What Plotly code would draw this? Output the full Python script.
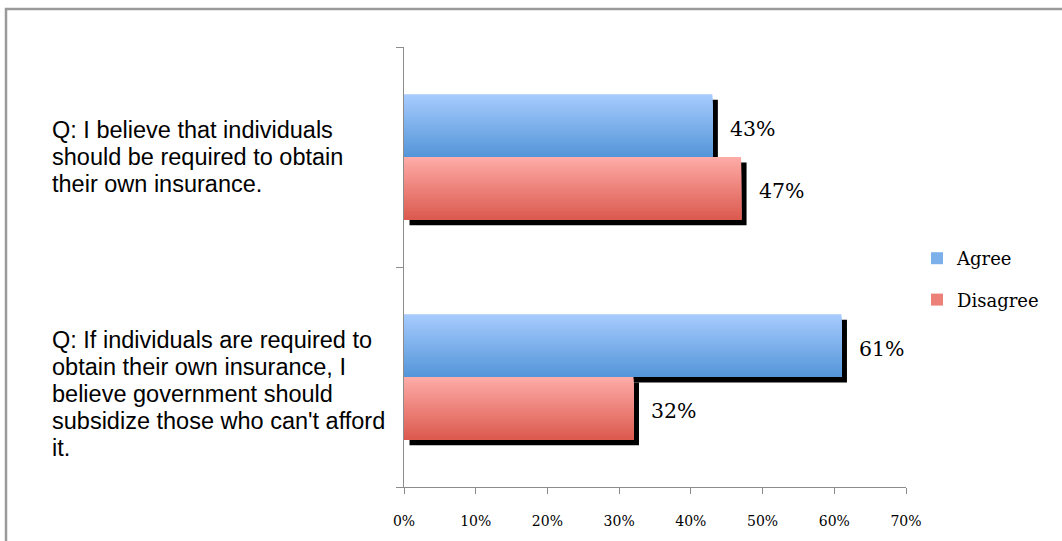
import plotly.graph_objects as go

# ---- data ----
questions = [
    "Q: I believe that individuals<br>should be required to obtain<br>their own insurance.",
    "Q: If individuals are required to<br>obtain their own insurance, I<br>believe government should<br>subsidize those who can't afford<br>it.",
]
series_names = ["Agree", "Disagree"]
agree = [43, 61]
disagree = [47, 32]
x_ticks = [0, 10, 20, 30, 40, 50, 60, 70]

# ---- styling ----
series_values = [agree, disagree]
grad_top = [(168, 204, 254), (254, 172, 168)]
grad_bot = [(83, 149, 217), (219, 89, 78)]
group_pos = [1, 0]            # first question drawn at the top
bar_w = 0.285                 # thickness of one bar (y units)
series_off = [bar_w / 2, -bar_w / 2]
n_steps = 32                  # colour steps used to fake the vertical gradient
px_per_x = 502 / 70
px_per_y = 220
sh_dx = 5.5 / px_per_x        # drop-shadow offset
sh_dy = 5.5 / px_per_y
label_shift = [0, -17]        # vertical nudge (px) of each question block
line_gap = 27

serif = "DejaVu Serif"
sans = "Liberation Sans"
axis_col = "#8c8c8c"

fig = go.Figure()

# drop shadows
for s, vals in enumerate(series_values):
    fig.add_trace(go.Bar(
        orientation="h",
        x=vals,
        base=[sh_dx] * len(vals),
        y=[g + series_off[s] - sh_dy for g in group_pos],
        width=bar_w,
        marker=dict(color="black", line=dict(width=0)),
        showlegend=False,
        hoverinfo="skip",
    ))

# gradient bars: each step covers from its own top edge down to the bar bottom,
# so later (darker) steps paint over the lower part of earlier ones without seams
for s, vals in enumerate(series_values):
    for k in range(n_steps):
        t = k / n_steps
        c = tuple(round(grad_top[s][i] + (grad_bot[s][i] - grad_top[s][i]) * (k + 0.5) / n_steps)
                  for i in range(3))
        h = bar_w * (1 - t)
        fig.add_trace(go.Bar(
            orientation="h",
            x=vals,
            y=[g + series_off[s] - bar_w / 2 + h / 2 for g in group_pos],
            width=h,
            marker=dict(color="rgb(%d,%d,%d)" % c, line=dict(width=0)),
            name=series_names[s],
            legendgroup=series_names[s],
            showlegend=(k == n_steps // 2),
            hoverinfo="skip",
        ))

annotations = []
# value labels
for s, vals in enumerate(series_values):
    for g, v in zip(group_pos, vals):
        annotations.append(dict(
            x=v, y=g + series_off[s], xref="x", yref="y",
            text=f"{v}%", showarrow=False, xanchor="left", yanchor="middle",
            xshift=16, yshift=-3,
            font=dict(family=serif, size=20.5, color="black"),
        ))

# question labels, one annotation per line
for q, g, shift in zip(questions, group_pos, label_shift):
    lines = q.split("<br>")
    n = len(lines)
    for i, line in enumerate(lines):
        annotations.append(dict(
            x=(50 - 404) / 502, y=g, xref="paper", yref="y",
            text=line, showarrow=False, xanchor="left", yanchor="middle",
            yshift=shift - (i - (n - 1) / 2) * line_gap,
            font=dict(family=sans, size=23.5, color="black"),
        ))

fig.update_layout(
    width=1062, height=541,
    margin=dict(l=404, r=156, t=47, b=54),
    paper_bgcolor="white", plot_bgcolor="white",
    barmode="overlay",
    showlegend=True,
    legend=dict(
        x=(917 - 404) / 502, y=(487 - 240) / 440, xanchor="left", yanchor="top",
        font=dict(family=serif, size=18, color="black"),
        tracegroupgap=15, bgcolor="rgba(0,0,0,0)",
    ),
    annotations=annotations,
    shapes=[dict(
        type="rect", xref="paper", yref="paper",
        x0=(6 - 404) / 502, x1=(1075 - 404) / 502,
        y0=(487 - 560) / 440, y1=(487 - 9) / 440,
        line=dict(color="#9a9a9a", width=2.5), fillcolor="rgba(0,0,0,0)", layer="below",
    )],
    xaxis=dict(
        range=[0, 70], tickvals=x_ticks, ticktext=[f"{v}%" for v in x_ticks],
        showgrid=False, zeroline=False, showline=True, linecolor=axis_col, linewidth=1,
        ticks="outside", ticklen=6, tickcolor=axis_col,
        tickfont=dict(family=serif, size=14, color="black"),
        ticklabelstandoff=15,
    ),
    yaxis=dict(
        range=[-0.5, 1.5], tickvals=[-0.5, 0.5, 1.5], showticklabels=False,
        showgrid=False, zeroline=False, showline=True, linecolor=axis_col, linewidth=1,
        ticks="outside", ticklen=7, tickcolor=axis_col,
    ),
)

fig.write_html("out.html")
